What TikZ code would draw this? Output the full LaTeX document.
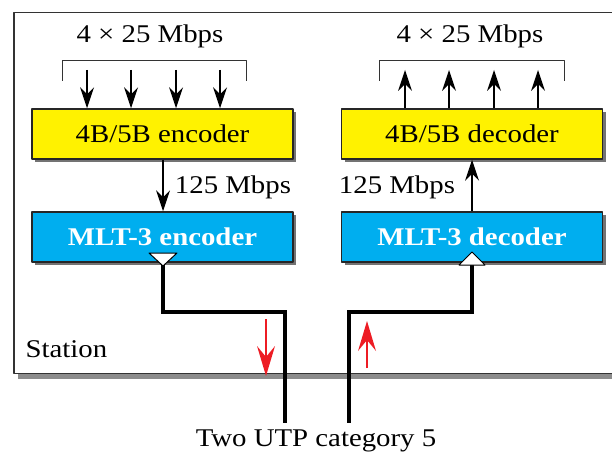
\documentclass[tikz,border=0pt]{standalone}
\usepackage{fontspec}
\setmainfont{Liberation Serif}[FakeStretch=1.13]
\usetikzlibrary{arrows.meta,shadows}
\definecolor{codeyellow}{RGB}{255,242,0}
\definecolor{codeblue}{RGB}{0,174,239}
\definecolor{wirered}{RGB}{237,28,36}
\tikzset{
  coder/.style={draw=black!85, line width=1.5pt, minimum width=261pt, minimum height=50pt, inner sep=0pt,
    drop shadow={shadow xshift=3pt, shadow yshift=-3pt, fill=black!55, opacity=1}},
  fourb/.style={coder, fill=codeyellow},
  mlt/.style={coder, fill=codeblue, text=white, font=\fontsize{25.5}{28}\selectfont\bfseries},
  feed/.style={line width=2.4pt, -{Stealth[length=21pt, width=14pt, inset=7pt, line width=0pt]}},
  cable/.style={line width=3.5pt, line cap=butt, line join=miter},
  sense/.style={draw=wirered, line width=2.6pt, -{Stealth[length=30pt, width=18pt, inset=11pt, line width=0pt]}},
}
\begin{document}
\begin{tikzpicture}[x=1pt, y=-1pt, font=\fontsize{25.5}{28}\selectfont, line join=round]
\useasboundingbox (0,0) rectangle (612,457);
% station frame
\fill[black!45] (18,374) rectangle (612,379);
\draw[black!80, line width=1.5pt] (613,12.5) -- (14,12.5) -- (14,373.5) -- (613,373.5);
\node[anchor=west] (station) at (22,349) {Station};
% transmitter side
\node[fourb] (enc4b) at (162.5,134) {4B/5B encoder};
\node[mlt] (encmlt) at (162.5,237) {MLT-3 encoder};
\node (inrate) at (150,36) {4 × 25 Mbps};
\draw[black!80, line width=1pt] (62,81) |- (246,61) -- (246,81);
\foreach \x in {87,131,176,220}
  \draw[feed] (\x,70) -- (enc4b.north -| \x,0);
\draw[feed] (enc4b.south -| 163,0) -- (encmlt.north -| 163,0);
\node (encrate) at (233,187) {125 Mbps};
% receiver side
\node[fourb] (dec4b) at (472,134) {4B/5B decoder};
\node[mlt] (decmlt) at (472,237) {MLT-3 decoder};
\node (outrate) at (470,36) {4 × 25 Mbps};
\draw[black!80, line width=1pt] (379,81) |- (564,61) -- (564,81);
\foreach \x in {405,449,494,538}
  \draw[feed] (dec4b.north -| \x,0) -- (\x,70);
\draw[feed] (decmlt.north -| 472,0) -- (dec4b.south -| 472,0);
\node (decrate) at (397,187) {125 Mbps};
% line drivers and twisted pairs
\coordinate (txout) at (163,262);
\coordinate (rxin) at (472,262);
\coordinate (txend) at (285,423);
\coordinate (rxend) at (349,423);
\draw[cable] (txout) -- ++(0,50) -| (txend);
\draw[cable] (rxin) -- ++(0,50) -| (rxend);
\draw[fill=white, line width=1pt] (149,253) -- (177,253) -- (163,266) -- cycle;
\draw[fill=white, line width=1pt] (459,265) -- (485,265) -- (472,252) -- cycle;
\draw[sense] (266,319) -- (266,376);
\draw[sense] (367,368) -- (367,321);
\node (utp) at (316,441) {Two UTP category 5};
\end{tikzpicture}
\end{document}
